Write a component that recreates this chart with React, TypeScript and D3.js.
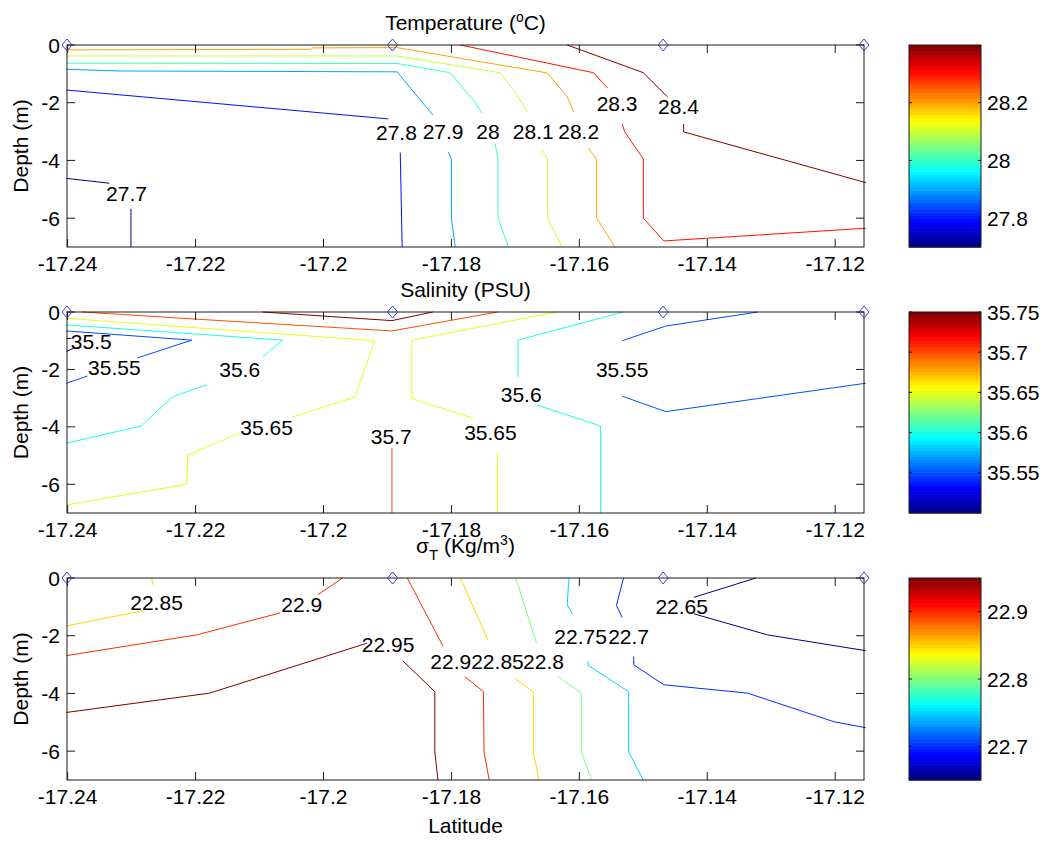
import React from 'react';
import * as d3 from 'd3';

type Pt = [number, number];
interface Seg { level: number; pts: Pt[] }
interface Lab { level: number; lat: number; depth: number }

const latTicks = [-17.24, -17.22, -17.2, -17.18, -17.16, -17.14, -17.12];
const depthTicks = [0, -2, -4, -6];
const stationLat = [-17.2401, -17.1892, -17.1469, -17.1155];

// temperature contours, (latitude, depth)
const tempLines: Seg[] = [
  { level: 27.7, pts: [[-17.2402, -4.62], [-17.2335, -4.79]] },
  { level: 27.7, pts: [[-17.2301, -5.68], [-17.2301, -7]] },
  { level: 27.8, pts: [[-17.2402, -1.56], [-17.1899, -2.56]] },
  { level: 27.8, pts: [[-17.188, -3.73], [-17.1877, -7]] },
  { level: 27.9, pts: [[-17.2402, -0.84], [-17.2319, -0.9], [-17.1885, -0.93], [-17.1829, -2.43]] },
  { level: 27.9, pts: [[-17.1805, -3.71], [-17.18, -3.95], [-17.18, -6], [-17.1794, -7]] },
  { level: 28, pts: [[-17.2402, -0.63], [-17.1885, -0.64], [-17.1802, -0.96], [-17.1766, -1.91], [-17.1752, -2.36]] },
  { level: 28, pts: [[-17.1732, -3.4], [-17.1727, -3.95], [-17.1727, -6], [-17.1711, -7]] },
  { level: 28.1, pts: [[-17.2402, -0.38], [-17.1885, -0.38], [-17.1724, -0.96], [-17.17, -1.66], [-17.1681, -2.32]] },
  { level: 28.1, pts: [[-17.1658, -3.64], [-17.165, -3.95], [-17.165, -6], [-17.1627, -7]] },
  { level: 28.2, pts: [[-17.2402, -0.17], [-17.2021, -0.15], [-17.2018, -0.1], [-17.1885, -0.09], [-17.165, -0.97], [-17.1619, -1.8], [-17.1609, -2.32]] },
  { level: 28.2, pts: [[-17.1586, -3.57], [-17.1573, -3.95], [-17.1573, -6], [-17.1544, -7]] },
  { level: 28.3, pts: [[-17.1786, 0], [-17.1578, -0.96], [-17.1556, -1.49]] },
  { level: 28.3, pts: [[-17.1533, -2.74], [-17.1529, -3.01], [-17.15, -3.95], [-17.15, -6], [-17.1468, -6.79], [-17.1152, -6.35]] },
  { level: 28.4, pts: [[-17.1619, 0], [-17.15, -0.96], [-17.1462, -1.8]] },
  { level: 28.4, pts: [[-17.1437, -2.74], [-17.1437, -3.01], [-17.1152, -4.77]] },
];
const tempLabels: Lab[] = [
  { level: 27.7, lat: -17.2308, depth: -5.13 },
  { level: 27.8, lat: -17.1886, depth: -3.04 },
  { level: 27.9, lat: -17.1813, depth: -3.01 },
  { level: 28, lat: -17.1743, depth: -3.01 },
  { level: 28.1, lat: -17.1672, depth: -3.01 },
  { level: 28.2, lat: -17.1601, depth: -3.01 },
  { level: 28.3, lat: -17.1541, depth: -2.03 },
  { level: 28.4, lat: -17.1445, depth: -2.13 },
];

// salinity contours
const salLines: Seg[] = [
  { level: 35.5, pts: [[-17.2402, -0.92], [-17.2394, -0.92]] },
  { level: 35.5, pts: [[-17.2389, -1.24], [-17.2402, -1.38]] },
  { level: 35.55, pts: [[-17.2402, -0.66], [-17.2206, -0.98], [-17.2291, -1.6]] },
  { level: 35.55, pts: [[-17.2369, -2.23], [-17.2402, -2.48]] },
  { level: 35.55, pts: [[-17.1533, -1.0], [-17.1465, -0.49], [-17.1321, 0]] },
  { level: 35.55, pts: [[-17.1533, -2.93], [-17.1465, -3.47], [-17.1152, -2.48]] },
  { level: 35.6, pts: [[-17.2402, -0.45], [-17.2064, -0.98], [-17.2095, -1.57]] },
  { level: 35.6, pts: [[-17.2183, -2.54], [-17.2236, -2.95], [-17.2285, -3.97], [-17.2402, -4.57]] },
  { level: 35.6, pts: [[-17.1531, 0], [-17.1696, -0.98], [-17.1696, -2.27]] },
  { level: 35.6, pts: [[-17.1666, -3.24], [-17.1567, -3.97], [-17.1567, -7]] },
  { level: 35.65, pts: [[-17.2402, -0.22], [-17.192, -1.0], [-17.1951, -2.97], [-17.2048, -3.65]] },
  { level: 35.65, pts: [[-17.2131, -4.22], [-17.2212, -4.98], [-17.2214, -6.0], [-17.2402, -6.72]] },
  { level: 35.65, pts: [[-17.1635, 0], [-17.1862, -0.98], [-17.1862, -3.01], [-17.1766, -3.7]] },
  { level: 35.65, pts: [[-17.1728, -4.87], [-17.1728, -7]] },
  { level: 35.7, pts: [[-17.2377, 0], [-17.2198, -0.25], [-17.1893, -0.66], [-17.1728, 0]] },
  { level: 35.7, pts: [[-17.1893, -4.74], [-17.1893, -7]] },
  { level: 35.75, pts: [[-17.2095, 0], [-17.1893, -0.3], [-17.1829, 0]] },
];
const salLabels: Lab[] = [
  { level: 35.5, lat: -17.2363, depth: -1.04 },
  { level: 35.55, lat: -17.2327, depth: -1.95 },
  { level: 35.6, lat: -17.2131, depth: -1.99 },
  { level: 35.65, lat: -17.2089, depth: -4.01 },
  { level: 35.7, lat: -17.1894, depth: -4.35 },
  { level: 35.65, lat: -17.1739, depth: -4.18 },
  { level: 35.6, lat: -17.1691, depth: -2.86 },
  { level: 35.55, lat: -17.1533, depth: -1.99 },
];

// sigma-t contours
const densLines: Seg[] = [
  { level: 22.65, pts: [[-17.1324, 0], [-17.1421, -0.67]] },
  { level: 22.65, pts: [[-17.1421, -1.24], [-17.1306, -1.97], [-17.1152, -2.52]] },
  { level: 22.7, pts: [[-17.1531, 0], [-17.1542, -0.95], [-17.1533, -1.37]] },
  { level: 22.7, pts: [[-17.1515, -2.72], [-17.1515, -3.01], [-17.1468, -3.7], [-17.1337, -3.99], [-17.1202, -4.98], [-17.1152, -5.19]] },
  { level: 22.75, pts: [[-17.1616, 0], [-17.1617, -0.23], [-17.1619, -0.93], [-17.1611, -1.24]] },
  { level: 22.75, pts: [[-17.1587, -2.89], [-17.1586, -3.03], [-17.1523, -3.94], [-17.1523, -6.02], [-17.15, -7]] },
  { level: 22.8, pts: [[-17.17, 0], [-17.1696, -0.23], [-17.1667, -2.26]] },
  { level: 22.8, pts: [[-17.1633, -3.42], [-17.1597, -3.99], [-17.1597, -6.02], [-17.1581, -7]] },
  { level: 22.85, pts: [[-17.2402, -1.66], [-17.2283, -1.14]] },
  { level: 22.85, pts: [[-17.2269, 0], [-17.2266, -0.23]] },
  { level: 22.85, pts: [[-17.1786, 0], [-17.1743, -2.14]] },
  { level: 22.85, pts: [[-17.17, -3.5], [-17.1672, -3.94], [-17.1672, -6.02], [-17.1663, -7]] },
  { level: 22.9, pts: [[-17.2402, -2.69], [-17.2198, -1.97], [-17.2068, -1.21]] },
  { level: 22.9, pts: [[-17.2009, -0.58], [-17.197, 0]] },
  { level: 22.9, pts: [[-17.1869, 0], [-17.1813, -2.37]] },
  { level: 22.9, pts: [[-17.1779, -3.42], [-17.175, -3.94], [-17.1749, -6.02], [-17.1741, -7]] },
  { level: 22.95, pts: [[-17.2402, -4.66], [-17.2178, -3.99], [-17.1932, -2.26]] },
  { level: 22.95, pts: [[-17.1876, -2.87], [-17.1826, -3.94], [-17.1826, -6.02], [-17.1821, -7]] },
];
const densLabels: Lab[] = [
  { level: 22.85, lat: -17.2261, depth: -0.86 },
  { level: 22.9, lat: -17.2034, depth: -0.93 },
  { level: 22.95, lat: -17.1899, depth: -2.32 },
  { level: 22.9, lat: -17.1801, depth: -2.91 },
  { level: 22.85, lat: -17.1728, depth: -2.91 },
  { level: 22.8, lat: -17.1656, depth: -2.91 },
  { level: 22.75, lat: -17.1598, depth: -2.04 },
  { level: 22.7, lat: -17.1523, depth: -2.04 },
  { level: 22.65, lat: -17.144, depth: -1.0 },
];

const tempClim: [number, number] = [27.7, 28.4];
const salClim: [number, number] = [35.5, 35.75];
const densClim: [number, number] = [22.65, 22.95];
const tempCbTicks = [27.8, 28, 28.2];
const salCbTicks = [35.55, 35.6, 35.65, 35.7, 35.75];
const densCbTicks = [22.7, 22.8, 22.9];

const FONT = 'Liberation Sans, Arial, Helvetica, sans-serif';
const FS = 21;
const X0 = 67;
const X1 = 864;
const CB0 = 909;
const CB1 = 981;

function jet(t: number) {
  const c = (v: number) => Math.max(0, Math.min(1, v));
  const r = c(Math.min(4 * t - 1.5, -4 * t + 4.5));
  const g = c(Math.min(4 * t - 0.5, -4 * t + 3.5));
  const b = c(Math.min(4 * t + 0.5, -4 * t + 2.5));
  return d3.rgb(r * 255, g * 255, b * 255).toString();
}

interface PanelProps {
  top: number;
  bottom: number;
  lines: Seg[];
  labels: Lab[];
  clim: [number, number];
  cbTicks: number[];
  title: React.ReactNode;
  titleY: number;
  xLabel?: string;
}

function Panel({ top, bottom, lines, labels, clim, cbTicks, title, titleY, xLabel }: PanelProps) {
  const x = d3.scaleLinear().domain([-17.2401, -17.1155]).range([X0, X1]);
  const y = d3.scaleLinear().domain([-7, 0]).range([bottom, top]);
  const cy = d3.scaleLinear().domain(clim).range([bottom, top]);
  const tNorm = d3.scaleLinear().domain(clim).range([0, 1]).clamp(true);
  const line = d3.line<Pt>().x(d => x(d[0])).y(d => y(d[1]));
  const bands = d3.range(64);
  const step = (clim[1] - clim[0]) / 64;

  return (
    <g>
      {lines.map((s, i) => (
        <path key={i} d={line(s.pts) || ''} fill="none" stroke={jet(tNorm(s.level))} strokeWidth={1} />
      ))}
      {labels.map((l, i) => (
        <text key={i} x={x(l.lat)} y={y(l.depth)} textAnchor="middle" dominantBaseline="central"
          fontFamily={FONT} fontSize={FS} fill="#000">{String(l.level)}</text>
      ))}
      {/* axes box */}
      <rect x={X0} y={top} width={X1 - X0} height={bottom - top} fill="none" stroke="#1a1a1a" strokeWidth={1} />
      {latTicks.map(t => (
        <g key={t}>
          <line x1={x(t)} x2={x(t)} y1={bottom} y2={bottom - 8} stroke="#1a1a1a" />
          <line x1={x(t)} x2={x(t)} y1={top} y2={top + 8} stroke="#1a1a1a" />
          <text x={x(t)} y={bottom + 24} textAnchor="middle" fontFamily={FONT} fontSize={FS} fill="#000">{String(t)}</text>
        </g>
      ))}
      {depthTicks.map(t => (
        <g key={t}>
          <line x1={X0} x2={X0 + 8} y1={y(t)} y2={y(t)} stroke="#1a1a1a" />
          <line x1={X1} x2={X1 - 8} y1={y(t)} y2={y(t)} stroke="#1a1a1a" />
          <text x={60} y={y(t)} textAnchor="end" dominantBaseline="central" fontFamily={FONT} fontSize={FS} fill="#000">{String(t)}</text>
        </g>
      ))}
      {stationLat.map((s, i) => {
        const sx = x(s);
        const sy = y(0);
        return (
          <polygon key={i} points={`${sx},${sy - 6} ${sx + 5},${sy} ${sx},${sy + 6} ${sx - 5},${sy}`}
            fill="none" stroke="#3c3cc4" strokeWidth={1} />
        );
      })}
      <text transform={`translate(28,${(top + bottom) / 2}) rotate(-90)`} textAnchor="middle"
        fontFamily={FONT} fontSize={FS} fill="#000">Depth (m)</text>
      <text x={(X0 + X1) / 2} y={titleY} textAnchor="middle" fontFamily={FONT} fontSize={FS} fill="#000">{title}</text>
      {xLabel && (
        <text x={(X0 + X1) / 2} y={bottom + 53} textAnchor="middle" fontFamily={FONT} fontSize={FS} fill="#000">{xLabel}</text>
      )}
      {/* colorbar */}
      {bands.map(i => {
        const v0 = clim[0] + i * step;
        const y0 = cy(v0 + step);
        const y1 = cy(v0);
        return <rect key={i} x={CB0} y={y0} width={CB1 - CB0} height={y1 - y0 + 0.6} fill={jet((i + 0.5) / 64)} />;
      })}
      <rect x={CB0} y={top} width={CB1 - CB0} height={bottom - top} fill="none" stroke="#1a1a1a" strokeWidth={1} />
      {cbTicks.map(t => (
        <g key={t}>
          <line x1={CB0} x2={CB0 + 3} y1={cy(t)} y2={cy(t)} stroke="#1a1a1a" />
          <line x1={CB1} x2={CB1 - 3} y1={cy(t)} y2={cy(t)} stroke="#1a1a1a" />
          <text x={CB1 + 6} y={cy(t)} dominantBaseline="central" fontFamily={FONT} fontSize={FS} fill="#000">{String(t)}</text>
        </g>
      ))}
    </g>
  );
}

export default function App() {
  return (
    <svg width={1046} height={841} style={{ position: 'absolute', left: 0, top: 0, background: '#fff' }}>
      <rect width={1046} height={841} fill="#fff" />
      <Panel top={45} bottom={247} lines={tempLines} labels={tempLabels} clim={tempClim} cbTicks={tempCbTicks}
        titleY={30}
        title={<>Temperature (<tspan fontSize={14} dy={-8}>o</tspan><tspan dy={8}>C)</tspan></>} />
      <Panel top={312} bottom={513} lines={salLines} labels={salLabels} clim={salClim} cbTicks={salCbTicks}
        titleY={297} title="Salinity (PSU)" />
      <Panel top={578} bottom={780} lines={densLines} labels={densLabels} clim={densClim} cbTicks={densCbTicks}
        titleY={553} xLabel="Latitude"
        title={<>σ<tspan fontSize={15} dy={7}>T</tspan><tspan dy={-7}> (Kg/m</tspan><tspan fontSize={14} dy={-8}>3</tspan><tspan dy={8}>)</tspan></>} />
    </svg>
  );
}
